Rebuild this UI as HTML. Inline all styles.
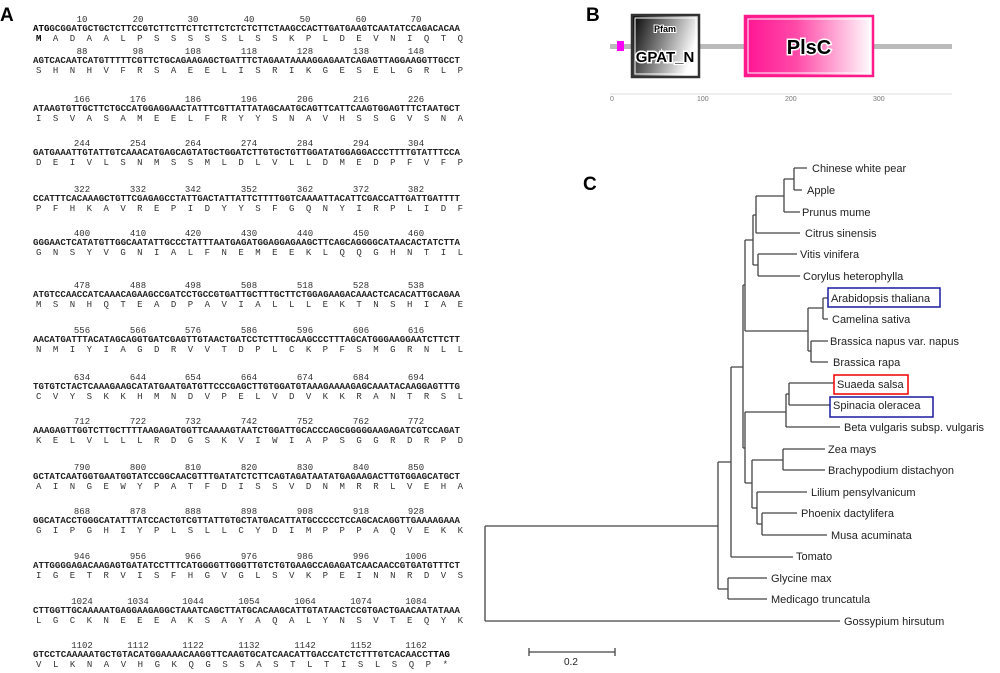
<!DOCTYPE html>
<html><head><meta charset="utf-8"><style>
body{margin:0;background:#fff}
svg{display:block}
.dna{font-family:"Liberation Mono",monospace;font-size:9px;fill:#222;font-weight:bold}
.aa{font-family:"Liberation Mono",monospace;font-size:9px;fill:#333}
.num{font-family:"Liberation Mono",monospace;font-size:9px;fill:#333;text-anchor:middle}
.lab{font-family:"Liberation Sans",sans-serif;font-size:19px;font-weight:bold;fill:#000}
.tx{font-family:"Liberation Sans",sans-serif;font-size:11px;fill:#222}
.tr{stroke:#444;stroke-width:1.3;fill:none}
</style></head><body>
<svg width="1000" height="673" viewBox="0 0 1000 673" xmlns="http://www.w3.org/2000/svg">
<defs>
<linearGradient id="g1" x1="0" y1="0" x2="1" y2="0.3"><stop offset="0" stop-color="#000"/><stop offset="1" stop-color="#fff"/></linearGradient>
<linearGradient id="g2" x1="0" y1="0" x2="1" y2="0"><stop offset="0" stop-color="#ff1493"/><stop offset="0.4" stop-color="#ff4aa8"/><stop offset="1" stop-color="#fff"/></linearGradient>
</defs>
<text class="lab" x="0" y="21">A</text>
<text class="lab" x="586" y="21">B</text>
<text class="lab" x="583" y="190">C</text>

<!-- Panel B -->
<rect x="610" y="44" width="342" height="5" fill="#bbb"/>
<rect x="617" y="41" width="7" height="10" fill="#ff00ff"/>
<rect x="632" y="15" width="67" height="62" fill="url(#g1)" stroke="#333" stroke-width="2.5"/>
<rect x="635" y="18" width="61" height="56" fill="none" stroke="#fff" stroke-width="1"/>
<text x="665" y="32" font-family="Liberation Sans,sans-serif" font-size="9" font-weight="bold" fill="#000" text-anchor="middle" stroke="#fff" stroke-width="2" paint-order="stroke">Pfam</text>
<text x="665" y="62" font-family="Liberation Sans,sans-serif" font-size="15" font-weight="bold" fill="#000" text-anchor="middle" stroke="#fff" stroke-width="3" paint-order="stroke">GPAT_N</text>
<rect x="745" y="16" width="128" height="60" fill="url(#g2)" stroke="#ff1a8c" stroke-width="2.5"/>
<rect x="748" y="19" width="122" height="54" fill="none" stroke="#fff" stroke-width="1"/>
<text x="809" y="54" font-family="Liberation Sans,sans-serif" font-size="20" font-weight="bold" fill="#000" text-anchor="middle" stroke="#fff" stroke-width="3" paint-order="stroke">PlsC</text>
<line x1="610" y1="94" x2="952" y2="94" stroke="#ddd" stroke-width="1"/>
<g font-family="Liberation Sans,sans-serif" font-size="7" fill="#777">
<text x="610" y="101">0</text><text x="697" y="101">100</text><text x="785" y="101">200</text><text x="873" y="101">300</text></g>

<!-- Panel C tree -->
<g class="tr">
<path d="M794 168H807M794 190H802M794 168V190M784 179H794M784 179V212M784 212H800M756 196H784M756 196V233M756 233H800M758 254H797M758 276H800M758 254V276M753 215H756M753 265H758M753 215V265M745 240H753M745 240V331M745 331H808M808 308V351M808 308H823M823 298V319M823 298H828M823 319H828M808 351H811M811 341V362M811 341H828M811 362H828"/>
<path d="M743 285H745M743 285V448M743 448H745M745 412V483M745 412H786M786 394V427M786 427H840M786 394H789M789 383V405M789 383H834M789 405H830M745 483H752M752 460V508M752 460H783M783 449V470M783 449H825M783 470H825M752 508H757M757 492V524M757 492H807M757 524H762M762 513V535M762 513H797M762 535H827"/>
<path d="M731 367H743M731 367V557M731 557H793M718 462H731M718 462V589M718 589H728M728 578V599M728 578H767M728 599H767M485 526H718M485 526V621M485 621H840"/>
<path d="M529 652H615M529 648V656M615 648V656"/>
</g>
<rect x="828" y="288" width="112" height="19" fill="none" stroke="#1a1aa0" stroke-width="1.5"/>
<rect x="834" y="375" width="74" height="19" fill="none" stroke="#e00" stroke-width="1.5"/>
<rect x="830" y="397" width="103" height="20" fill="none" stroke="#1a1aa0" stroke-width="1.5"/>
<g class="tx">
<text x="812" y="172">Chinese white pear</text>
<text x="807" y="194">Apple</text>
<text x="802" y="216">Prunus mume</text>
<text x="805" y="237">Citrus sinensis</text>
<text x="800" y="258">Vitis vinifera</text>
<text x="803" y="280">Corylus heterophylla</text>
<text x="831" y="302">Arabidopsis thaliana</text>
<text x="832" y="323">Camelina sativa</text>
<text x="830" y="345">Brassica napus var. napus</text>
<text x="833" y="366">Brassica rapa</text>
<text x="837" y="388">Suaeda salsa</text>
<text x="833" y="409">Spinacia oleracea</text>
<text x="844" y="431">Beta vulgaris subsp. vulgaris</text>
<text x="828" y="453">Zea mays</text>
<text x="828" y="474">Brachypodium distachyon</text>
<text x="811" y="496">Lilium pensylvanicum</text>
<text x="801" y="517">Phoenix dactylifera</text>
<text x="831" y="539">Musa acuminata</text>
<text x="796" y="560">Tomato</text>
<text x="771" y="582">Glycine max</text>
<text x="771" y="603">Medicago truncatula</text>
<text x="844" y="625">Gossypium hirsutum</text>
<text x="564" y="665" font-size="10">0.2</text>
</g>

<g>
<text class="num" x="82" y="22">10</text><text class="num" x="138" y="22">20</text><text class="num" x="193" y="22">30</text><text class="num" x="249" y="22">40</text><text class="num" x="305" y="22">50</text><text class="num" x="361" y="22">60</text><text class="num" x="416" y="22">70</text>
<text class="dna" x="33" y="31" textLength="427" lengthAdjust="spacingAndGlyphs"><tspan fill="#000" font-weight="900">ATG</tspan>GCGGATGCTGCTCTTCCGTCTTCTTCTTCTTCTCTCTCTTCTAAGCCACTTGATGAAGTCAATATCCAGACACAA</text>
<text class="aa" x="36" y="41" textLength="427" lengthAdjust="spacing"><tspan font-weight="bold" fill="#000">M</tspan> A D A A L P S S S S S L S S K P L D E V N I Q T Q</text>
</g>
<g font-family="Liberation Mono,monospace" font-size="9">
<g class="num">
<text x="82" y="54">88</text><text x="138" y="54">98</text><text x="193" y="54">108</text><text x="249" y="54">118</text><text x="305" y="54">128</text><text x="361" y="54">138</text><text x="416" y="54">148</text>
<text x="82" y="102">166</text><text x="138" y="102">176</text><text x="193" y="102">186</text><text x="249" y="102">196</text><text x="305" y="102">206</text><text x="361" y="102">216</text><text x="416" y="102">226</text>
<text x="82" y="146">244</text><text x="138" y="146">254</text><text x="193" y="146">264</text><text x="249" y="146">274</text><text x="305" y="146">284</text><text x="361" y="146">294</text><text x="416" y="146">304</text>
<text x="82" y="192">322</text><text x="138" y="192">332</text><text x="193" y="192">342</text><text x="249" y="192">352</text><text x="305" y="192">362</text><text x="361" y="192">372</text><text x="416" y="192">382</text>
<text x="82" y="236">400</text><text x="138" y="236">410</text><text x="193" y="236">420</text><text x="249" y="236">430</text><text x="305" y="236">440</text><text x="361" y="236">450</text><text x="416" y="236">460</text>
<text x="82" y="288">478</text><text x="138" y="288">488</text><text x="193" y="288">498</text><text x="249" y="288">508</text><text x="305" y="288">518</text><text x="361" y="288">528</text><text x="416" y="288">538</text>
<text x="82" y="333">556</text><text x="138" y="333">566</text><text x="193" y="333">576</text><text x="249" y="333">586</text><text x="305" y="333">596</text><text x="361" y="333">606</text><text x="416" y="333">616</text>
<text x="82" y="380">634</text><text x="138" y="380">644</text><text x="193" y="380">654</text><text x="249" y="380">664</text><text x="305" y="380">674</text><text x="361" y="380">684</text><text x="416" y="380">694</text>
<text x="82" y="424">712</text><text x="138" y="424">722</text><text x="193" y="424">732</text><text x="249" y="424">742</text><text x="305" y="424">752</text><text x="361" y="424">762</text><text x="416" y="424">772</text>
<text x="82" y="470">790</text><text x="138" y="470">800</text><text x="193" y="470">810</text><text x="249" y="470">820</text><text x="305" y="470">830</text><text x="361" y="470">840</text><text x="416" y="470">850</text>
<text x="82" y="514">868</text><text x="138" y="514">878</text><text x="193" y="514">888</text><text x="249" y="514">898</text><text x="305" y="514">908</text><text x="361" y="514">918</text><text x="416" y="514">928</text>
<text x="82" y="559">946</text><text x="138" y="559">956</text><text x="193" y="559">966</text><text x="249" y="559">976</text><text x="305" y="559">986</text><text x="361" y="559">996</text><text x="416" y="559">1006</text>
<text x="82" y="604">1024</text><text x="138" y="604">1034</text><text x="193" y="604">1044</text><text x="249" y="604">1054</text><text x="305" y="604">1064</text><text x="361" y="604">1074</text><text x="416" y="604">1084</text>
<text x="82" y="648">1102</text><text x="138" y="648">1112</text><text x="193" y="648">1122</text><text x="249" y="648">1132</text><text x="305" y="648">1142</text><text x="361" y="648">1152</text><text x="416" y="648">1162</text>
</g>
<text class="dna" x="33" y="63" textLength="427" lengthAdjust="spacingAndGlyphs">AGTCACAATCATGTTTTTCGTTCTGCAGAAGAGCTGATTTCTAGAATAAAAGGAGAATCAGAGTTAGGAAGGTTGCCT</text>
<text class="aa" x="36" y="73" textLength="427" lengthAdjust="spacing">S H N H V F R S A E E L I S R I K G E S E L G R L P</text>
<text class="dna" x="33" y="111" textLength="427" lengthAdjust="spacingAndGlyphs">ATAAGTGTTGCTTCTGCCATGGAGGAACTATTTCGTTATTATAGCAATGCAGTTCATTCAAGTGGAGTTTCTAATGCT</text>
<text class="aa" x="36" y="121" textLength="427" lengthAdjust="spacing">I S V A S A M E E L F R Y Y S N A V H S S G V S N A</text>
<text class="dna" x="33" y="155" textLength="427" lengthAdjust="spacingAndGlyphs">GATGAAATTGTATTGTCAAACATGAGCAGTATGCTGGATCTTGTGCTGTTGGATATGGAGGACCCTTTTGTATTTCCA</text>
<text class="aa" x="36" y="165" textLength="427" lengthAdjust="spacing">D E I V L S N M S S M L D L V L L D M E D P F V F P</text>
<text class="dna" x="33" y="201" textLength="427" lengthAdjust="spacingAndGlyphs">CCATTTCACAAAGCTGTTCGAGAGCCTATTGACTATTATTCTTTTGGTCAAAATTACATTCGACCATTGATTGATTTT</text>
<text class="aa" x="36" y="211" textLength="427" lengthAdjust="spacing">P F H K A V R E P I D Y Y S F G Q N Y I R P L I D F</text>
<text class="dna" x="33" y="245" textLength="427" lengthAdjust="spacingAndGlyphs">GGGAACTCATATGTTGGCAATATTGCCCTATTTAATGAGATGGAGGAGAAGCTTCAGCAGGGGCATAACACTATCTTA</text>
<text class="aa" x="36" y="255" textLength="427" lengthAdjust="spacing">G N S Y V G N I A L F N E M E E K L Q Q G H N T I L</text>
<text class="dna" x="33" y="297" textLength="427" lengthAdjust="spacingAndGlyphs">ATGTCCAACCATCAAACAGAAGCCGATCCTGCCGTGATTGCTTTGCTTCTGGAGAAGACAAACTCACACATTGCAGAA</text>
<text class="aa" x="36" y="307" textLength="427" lengthAdjust="spacing">M S N H Q T E A D P A V I A L L L E K T N S H I A E</text>
<text class="dna" x="33" y="342" textLength="427" lengthAdjust="spacingAndGlyphs">AACATGATTTACATAGCAGGTGATCGAGTTGTAACTGATCCTCTTTGCAAGCCCTTTAGCATGGGAAGGAATCTTCTT</text>
<text class="aa" x="36" y="352" textLength="427" lengthAdjust="spacing">N M I Y I A G D R V V T D P L C K P F S M G R N L L</text>
<text class="dna" x="33" y="389" textLength="427" lengthAdjust="spacingAndGlyphs">TGTGTCTACTCAAAGAAGCATATGAATGATGTTCCCGAGCTTGTGGATGTAAAGAAAAGAGCAAATACAAGGAGTTTG</text>
<text class="aa" x="36" y="399" textLength="427" lengthAdjust="spacing">C V Y S K K H M N D V P E L V D V K K R A N T R S L</text>
<text class="dna" x="33" y="433" textLength="427" lengthAdjust="spacingAndGlyphs">AAAGAGTTGGTCTTGCTTTTAAGAGATGGTTCAAAAGTAATCTGGATTGCACCCAGCGGGGGAAGAGATCGTCCAGAT</text>
<text class="aa" x="36" y="443" textLength="427" lengthAdjust="spacing">K E L V L L L R D G S K V I W I A P S G G R D R P D</text>
<text class="dna" x="33" y="479" textLength="427" lengthAdjust="spacingAndGlyphs">GCTATCAATGGTGAATGGTATCCGGCAACGTTTGATATCTCTTCAGTAGATAATATGAGAAGACTTGTGGAGCATGCT</text>
<text class="aa" x="36" y="489" textLength="427" lengthAdjust="spacing">A I N G E W Y P A T F D I S S V D N M R R L V E H A</text>
<text class="dna" x="33" y="523" textLength="427" lengthAdjust="spacingAndGlyphs">GGCATACCTGGGCATATTTATCCACTGTCGTTATTGTGCTATGACATTATGCCCCCTCCAGCACAGGTTGAAAAGAAA</text>
<text class="aa" x="36" y="533" textLength="427" lengthAdjust="spacing">G I P G H I Y P L S L L C Y D I M P P P A Q V E K K</text>
<text class="dna" x="33" y="568" textLength="427" lengthAdjust="spacingAndGlyphs">ATTGGGGAGACAAGAGTGATATCCTTTCATGGGGTTGGGTTGTCTGTGAAGCCAGAGATCAACAACCGTGATGTTTCT</text>
<text class="aa" x="36" y="578" textLength="427" lengthAdjust="spacing">I G E T R V I S F H G V G L S V K P E I N N R D V S</text>
<text class="dna" x="33" y="613" textLength="427" lengthAdjust="spacingAndGlyphs">CTTGGTTGCAAAAATGAGGAAGAGGCTAAATCAGCTTATGCACAAGCATTGTATAACTCCGTGACTGAACAATATAAA</text>
<text class="aa" x="36" y="623" textLength="427" lengthAdjust="spacing">L G C K N E E E A K S A Y A Q A L Y N S V T E Q Y K</text>
<text class="dna" x="33" y="657" textLength="417" lengthAdjust="spacingAndGlyphs">GTCCTCAAAAATGCTGTACATGGAAAACAAGGTTCAAGTGCATCAACATTGACCATCTCTTTGTCACAACCT<tspan fill="#000" font-weight="900">TAG</tspan></text>
<text class="aa" x="36" y="667" textLength="412" lengthAdjust="spacing">V L K N A V H G K Q G S S A S T L T I S L S Q P *</text>
</g>
</svg>
</body></html>
